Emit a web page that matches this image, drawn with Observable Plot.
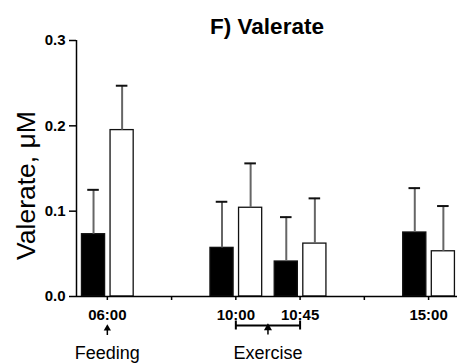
<!DOCTYPE html>
<html>
<head>
<meta charset="utf-8">
<script src="https://cdn.jsdelivr.net/npm/d3@7"></script>
<script src="https://cdn.jsdelivr.net/npm/@observablehq/plot@0.6"></script>
<style>
  html, body { margin: 0; padding: 0; background: #fff; }
  svg { font-family: "Liberation Sans", Arial, Helvetica, sans-serif; }
</style>
</head>
<body>
<div id="chart"></div>
<script>
// ---- data ----
const title = "F) Valerate";
const yLabel = "Valerate, μM";
const tickLabels = ["06:00", "", "10:00", "10:45", "", "15:00"];
const times = ["06:00", "10:00", "10:45", "15:00"];
const blackValues = [0.073, 0.057, 0.041, 0.075];
const blackErrors = [0.052, 0.054, 0.052, 0.052];
const whiteValues = [0.195, 0.104, 0.062, 0.053];
const whiteErrors = [0.052, 0.052, 0.053, 0.053];
const yTicks = [0, 0.1, 0.2, 0.3];
const feeding = {label: "Feeding", at: "06:00"};
const exercise = {label: "Exercise", from: "10:00", to: "10:45"};

// ---- build table ----
const slot = t => tickLabels.indexOf(t);
const rows = [];
times.forEach((t, i) => {
  rows.push({time: t, group: "black", value: blackValues[i], err: blackErrors[i]});
  rows.push({time: t, group: "white", value: whiteValues[i], err: whiteErrors[i]});
});
// bar geometry in slot units
const barW = 0.36, gapL = 0.035, gapR = 0.05, capHalf = 0.09;
const left = d => d.group === "black" ? slot(d.time) - gapL - barW : slot(d.time) + gapR;
const right = d => left(d) + barW;
const center = d => left(d) + barW / 2;

const xDomain = [-0.48, tickLabels.length - 1 + 0.45];
const exMid = (slot(exercise.from) + slot(exercise.to)) / 2;
const font = {fontFamily: "Liberation Sans, Arial, sans-serif"};

const chart = Plot.plot({
  width: 457,
  height: 364,
  marginLeft: 76,
  marginRight: 0,
  marginTop: 40,
  marginBottom: 68,
  x: {domain: xDomain, axis: null},
  y: {domain: [0, 0.3], axis: null},
  marks: [
    // bars
    Plot.rect(rows, {
      x1: left, x2: right, y1: 0, y2: "value",
      fill: d => d.group === "black" ? "#000" : "#fff",
      stroke: "#111", strokeWidth: 1.3
    }),
    // error bars (vertical)
    Plot.ruleX(rows, {x: center, y1: "value", y2: d => d.value + d.err, stroke: "#666", strokeWidth: 2}),
    // caps
    Plot.ruleY(rows, {y: d => d.value + d.err, x1: d => center(d) - capHalf, x2: d => center(d) + capHalf, stroke: "#111", strokeWidth: 2}),
    // axes lines
    Plot.ruleY([0], {stroke: "#000", strokeWidth: 1.5}),
    Plot.ruleX([xDomain[0]], {y1: 0, y2: 0.3, stroke: "#000", strokeWidth: 1.5}),
    Plot.axisX({
      ticks: d3.range(tickLabels.length), tickFormat: i => tickLabels[i],
      tickSize: 4, tickPadding: 9, fontSize: 15, fontWeight: "bold", ...font,
      label: null, strokeWidth: 1.5, color: "#000"
    }),
    Plot.axisY({
      ticks: yTicks, tickFormat: d3.format(".1f"),
      tickSize: 7, tickPadding: 4, fontSize: 15, fontWeight: "bold", ...font,
      label: null, strokeWidth: 1.5, color: "#000"
    }),
    // title
    Plot.text([title], {frameAnchor: "top", lineAnchor: "middle", textAnchor: "middle", dy: -14, fontSize: 22.5, fontWeight: "bold", ...font, fill: "#000"}),
    // y label
    Plot.text([yLabel], {frameAnchor: "left", textAnchor: "middle", lineAnchor: "middle", rotate: -90, dx: -50, dy: 17, fontSize: 26.5, ...font, fill: "#000"}),
    // Feeding annotation
    Plot.ruleX([slot(feeding.at)], {y1: 0, y2: 0, insetTop: -4, insetBottom: -4, dy: 35, stroke: "#000", strokeWidth: 1.5}),
    Plot.dot([slot(feeding.at)], {x: d => d, y: 0, dy: 32, symbol: "triangle", r: 2.7, fill: "#000", stroke: null}),
    Plot.text([feeding.label], {x: slot(feeding.at), frameAnchor: "bottom", lineAnchor: "bottom", dy: 62, fontSize: 18, ...font, fill: "#000"}),
    // Exercise annotation
    Plot.ruleY([0], {x1: slot(exercise.from), x2: slot(exercise.to), dy: 29, stroke: "#000", strokeWidth: 2}),
    Plot.ruleX([slot(exercise.from), slot(exercise.to)], {y1: 0, y2: 0, insetTop: -4.5, insetBottom: -4.5, dy: 29, stroke: "#000", strokeWidth: 2}),
    Plot.ruleX([exMid], {y1: 0, y2: 0, insetTop: -3.5, insetBottom: -3.5, dy: 35, stroke: "#000", strokeWidth: 1.5}),
    Plot.dot([exMid], {x: d => d, y: 0, dy: 31.5, symbol: "triangle", r: 3, fill: "#000", stroke: null}),
    Plot.text([exercise.label], {x: exMid, frameAnchor: "bottom", lineAnchor: "bottom", dy: 62, fontSize: 18, ...font, fill: "#000"})
  ]
});
document.getElementById("chart").appendChild(chart);
</script>
</body>
</html>
